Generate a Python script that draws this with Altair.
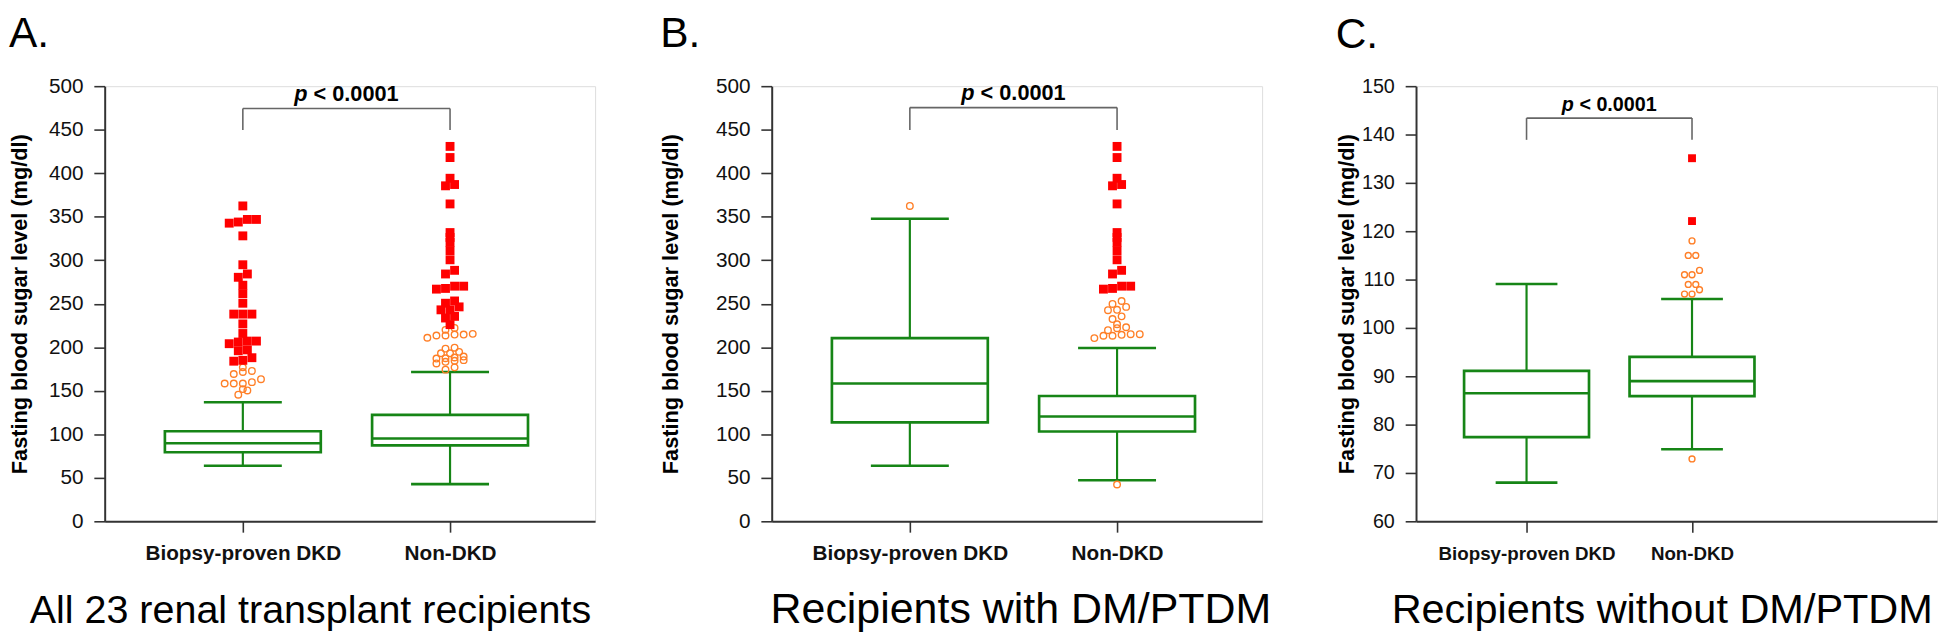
import altair as alt
import pandas as pd

# ---------------- data ----------------
categories = ["Biopsy-proven DKD", "Non-DKD"]
panel_letters = ["A.", "B.", "C."]
panel_titles = ["All 23 renal transplant recipients",
                "Recipients with DM/PTDM",
                "Recipients without DM/PTDM"]
y_title = "Fasting blood sugar level (mg/dl)"
p_italic = "p"
p_rest = "< 0.0001"

# box statistics [Biopsy-proven DKD, Non-DKD]
a_q1 = [79.4, 87.3]
a_med = [89.6, 95.2]
a_q3 = [103.5, 122.4]
a_lo = [63.9, 42.7]
a_hi = [136.8, 171.6]

b_q1 = [113.7, 103.2]
b_med = [158.4, 120.5]
b_q3 = [210.5, 144.0]
b_lo = [63.9, 47.2]
b_hi = [347.7, 199.2]

c_q1 = [77.4, 85.9]
c_med = [86.5, 89.0]
c_q3 = [91.1, 94.0]
c_lo = [68.0, 74.9]
c_hi = [109.1, 106.0]

# far outliers (filled squares) and mild outliers (open circles)
a_far_dkd = [184, 185, 188, 196, 197, 204.1, 206, 207.1, 207.1, 215.8, 226.8,
             238.1, 238.1, 238.1, 250.6, 261.6, 271.3, 280.4, 284.2, 294.8,
             328, 342.6, 343.9, 346.9, 346.9, 362.4]
a_mild_dkd = [145.5, 150.4, 151.9, 158.4, 158.4, 158.4, 159.9, 163.3, 169.3,
              171.6, 172.8, 176.9]
a_far_non = [226, 233.6, 235.5, 243, 243, 246.4, 250.6, 253.2, 266.8, 267.6,
             270.2, 270.2, 284.2, 288.4, 300.5, 311, 320.5, 326.2, 331.8, 364.7,
             385.5, 387, 394.2, 418, 430.8]
a_mild_non = [174.3, 176.9, 181.4, 183.3, 184.5, 185.2, 187.0, 187.4, 188.2,
              189.3, 193.1, 193.1, 194.7, 198.4, 199.5, 210.9, 213.5, 213.5,
              214.6, 214.6, 215.4, 220.0, 222.2]

b_far_dkd = []
b_mild_dkd = [362.4]
b_far_non = [266.8, 267.6, 270.2, 270.2, 284.2, 288.4, 300.5, 311, 320.5, 326.2,
             331.8, 364.7, 385.5, 387, 394.2, 418, 430.8]
b_mild_non = [42.3, 210.5, 213.2, 213.2, 214.3, 215.0, 215.0, 219.6, 221.9,
              223.0, 226.4, 232.4, 235.5, 242.6, 243.0, 246.4, 249.8, 253.2]

c_far_dkd = []
c_mild_dkd = []
c_far_non = [122.1, 135.1]
c_mild_non = [72.9, 107.0, 107.0, 107.9, 109.0, 109.0, 111.0, 111.0, 111.9,
              115.0, 115.0, 118.0]

# significance bracket: [bar level, leg end, label baseline]
a_bracket = [474.3, 449.7, 483.0]
b_bracket = [475.4, 449.7, 484.0]
c_bracket = [143.4, 138.9, 144.9]

a_yticks = list(range(0, 501, 50))
b_yticks = list(range(0, 501, 50))
c_yticks = list(range(60, 151, 10))

# ---------------- styles ----------------
GREEN = "#168516"
RED = "#ff0000"
ORANGE = "#ff7f27"
AXIS = "#333333"
BRACKET = "#666666"
FONT = "Liberation Sans"


def swarm(values, px_per_unit, d, t):
    """simple row-based beeswarm layout, returns (value, pixel offset)"""
    vals = sorted(values)
    rows = []
    for v in vals:
        if rows and (v - rows[-1][0]) * px_per_unit < t:
            rows[-1].append(v)
        else:
            rows.append([v])
    out = []
    for r in rows:
        n = len(r)
        for k, v in enumerate(r):
            out.append((v, (k - (n - 1) / 2.0) * d))
    return out


def panel(letter, subtitle, q1, med, q3, lo, hi, far, mild, ydom, yticks,
          bracket, width, height, left_px, step_px, box_half, cap_half,
          title_pad, sub_x, d, sq_size, ci_size, p_dx, fs):
    # fs: font sizes (tick labels, category labels, subtitle, p text)
    ppu = height / (ydom[1] - ydom[0])
    xdom = [-left_px / step_px, (width - left_px) / step_px]
    xscale = alt.Scale(domain=xdom, nice=False, zero=False)
    yscale = alt.Scale(domain=ydom, nice=False, zero=False)
    label_expr = f"datum.value == 0 ? '{categories[0]}' : '{categories[1]}'"
    xaxis = alt.Axis(values=[0, 1], labelExpr=label_expr, title=subtitle,
                     titleX=sub_x, titleY=103, titleAlign="center",
                     titleBaseline="alphabetic", titleFontSize=fs[2], titleFont=FONT,
                     titleFontWeight="normal", titleColor="black",
                     titleLimit=1000,
                     labelFont=FONT, labelFontSize=fs[1], labelFontWeight="bold",
                     labelColor="#111111", labelBaseline="alphabetic",
                     labelPadding=28, labelAngle=0, labelLimit=1000,
                     tickSize=11, tickColor=AXIS,
                     tickWidth=1.6, domainColor=AXIS, domainWidth=2, grid=False,
                     labelFlush=False)
    yaxis = alt.Axis(values=yticks, title=y_title, titleFont=FONT,
                     titleFontSize=22, titleFontWeight="bold", titleColor="black",
                     titlePadding=title_pad, titleLimit=1000,
                     labelFont=FONT, labelFontSize=fs[0],
                     labelColor="#111111", labelPadding=11, tickSize=11,
                     tickColor=AXIS, tickWidth=1.6, domainColor=AXIS,
                     domainWidth=2, grid=False, labelFlush=False)

    def X(f):
        return alt.X(f, type="quantitative", scale=xscale, axis=xaxis, title=subtitle)

    def Y(f):
        return alt.Y(f, type="quantitative", scale=yscale, axis=yaxis, title=y_title)

    bh = box_half / step_px
    ch = cap_half / step_px
    box = pd.DataFrame({"idx": [0, 1], "q1": q1, "med": med, "q3": q3,
                        "lo": lo, "hi": hi})
    box["xl"] = box["idx"] - bh
    box["xr"] = box["idx"] + bh
    box["cl"] = box["idx"] - ch
    box["cr"] = box["idx"] + ch

    def pts(groups):
        rows = []
        for i, g in enumerate(groups):
            for v, off in swarm(g, ppu, d, 4.6):
                rows.append({"idx": i, "value": v, "xpos": i + off / step_px})
        return pd.DataFrame(rows, columns=["idx", "value", "xpos"])

    far_df = pts(far)
    mild_df = pts(mild)

    base = alt.Chart(box)
    whisk_hi = base.mark_rule(color=GREEN, strokeWidth=2.2).encode(
        x=X("idx"), y=Y("q3"), y2="hi")
    whisk_lo = base.mark_rule(color=GREEN, strokeWidth=2.2).encode(
        x=X("idx"), y=Y("lo"), y2="q1")
    cap_hi = base.mark_rule(color=GREEN, strokeWidth=2.6).encode(
        x=X("cl"), x2="cr", y=Y("hi"))
    cap_lo = base.mark_rule(color=GREEN, strokeWidth=2.6).encode(
        x=X("cl"), x2="cr", y=Y("lo"))
    rect = base.mark_rect(fill="white", stroke=GREEN, strokeWidth=2.7).encode(
        x=X("xl"), x2="xr", y=Y("q1"), y2="q3")
    median = base.mark_rule(color=GREEN, strokeWidth=2.6).encode(
        x=X("xl"), x2="xr", y=Y("med"))

    layers = [whisk_hi, whisk_lo, cap_hi, cap_lo, rect, median]
    if len(mild_df):
        layers.append(alt.Chart(mild_df).mark_point(
            shape="circle", filled=False, color=ORANGE, strokeWidth=1.4,
            size=ci_size, opacity=1).encode(x=X("xpos"), y=Y("value")))
    if len(far_df):
        layers.append(alt.Chart(far_df).mark_point(
            shape="square", filled=True, color=RED, size=sq_size,
            opacity=1, strokeWidth=0).encode(x=X("xpos"), y=Y("value")))

    br = pd.DataFrame({"a": [0], "b": [1], "y": [bracket[0]]})
    legs = pd.DataFrame({"idx": [0, 1], "y": [bracket[1]] * 2,
                         "y2": [bracket[0]] * 2})
    layers.append(alt.Chart(br).mark_rule(color=BRACKET, strokeWidth=1.6).encode(
        x=X("a"), x2="b", y=Y("y")))
    layers.append(alt.Chart(legs).mark_rule(color=BRACKET, strokeWidth=1.6).encode(
        x=X("idx"), y=Y("y"), y2="y2"))
    txt = pd.DataFrame({"mid": [0.5], "y": [bracket[2]],
                        "t1": [p_italic], "t2": [p_rest]})
    layers.append(alt.Chart(txt).mark_text(
        font=FONT, fontSize=fs[3], fontWeight="bold", fontStyle="italic",
        align="left", baseline="alphabetic", dx=p_dx[0], color="black").encode(
        x=X("mid"), y=Y("y"), text="t1:N"))
    layers.append(alt.Chart(txt).mark_text(
        font=FONT, fontSize=fs[3], fontWeight="bold",
        align="left", baseline="alphabetic", dx=p_dx[1], color="black").encode(
        x=X("mid"), y=Y("y"), text="t2:N"))

    return alt.layer(*layers).properties(
        width=width, height=height,
        title=alt.TitleParams(letter, anchor="start", frame="bounds",
                              fontSize=43, font=FONT, fontWeight="normal",
                              color="black", baseline="alphabetic",
                              offset=32, dy=46))


pa = panel(panel_letters[0], panel_titles[0], a_q1, a_med, a_q3, a_lo, a_hi,
           [a_far_dkd, a_far_non], [a_mild_dkd, a_mild_non], [0, 500], a_yticks,
           a_bracket, 497, 441, 140, 210, 79, 39.5, 17, 208, 9.2, 81, 44,
           [-52.9, -33.3], [21, 21, 40, 22])
pb = panel(panel_letters[1], panel_titles[1], b_q1, b_med, b_q3, b_lo, b_hi,
           [b_far_dkd, b_far_non], [b_mild_dkd, b_mild_non], [0, 500], b_yticks,
           b_bracket, 497, 441, 140, 210, 79, 39.5, 33, 252, 9.2, 81, 44,
           [-52.9, -33.3], [21, 21, 43.5, 22])
pc = panel(panel_letters[2], panel_titles[2], c_q1, c_med, c_q3, c_lo, c_hi,
           [c_far_dkd, c_far_non], [c_mild_dkd, c_mild_non], [60, 150], c_yticks,
           c_bracket, 528, 441, 112, 167.7, 63.3, 31.3, 3, 249, 7.6, 64, 36,
           [-48.1, -30.3], [20, 19, 42, 20])

chart = alt.hconcat(pa, pb, pc, spacing=64, padding=0).configure_view(
    stroke=None).configure(background="white")

chart.save("out.html", embed_options={"renderer": "svg", "actions": False})
